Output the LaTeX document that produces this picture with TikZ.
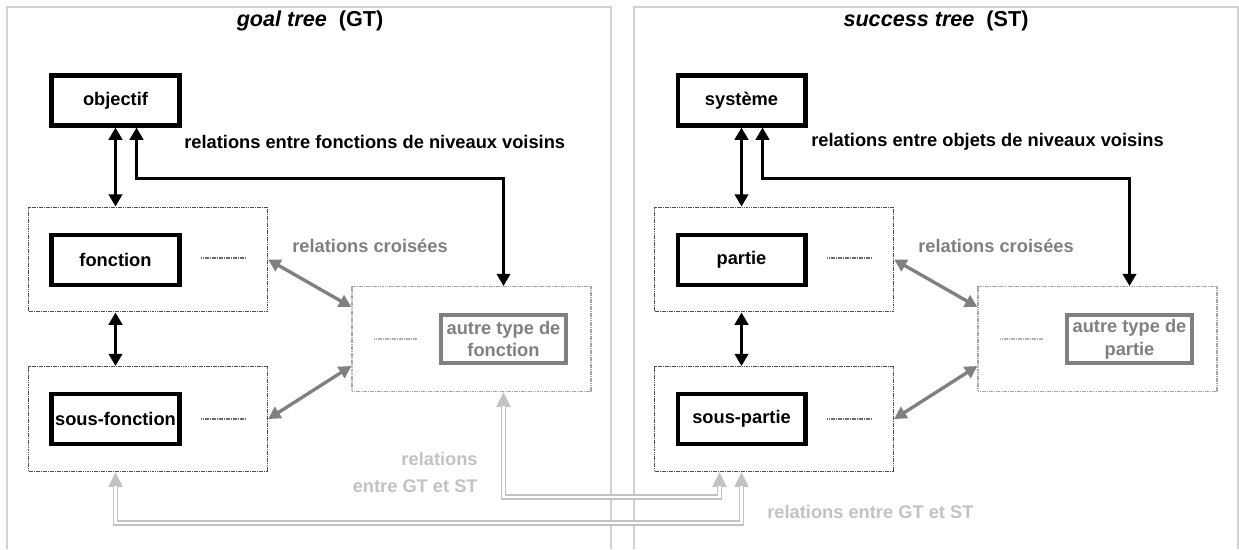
\documentclass[tikz,border=0pt]{standalone}
\usepackage{fontspec}
\setmainfont{Liberation Sans}
\usetikzlibrary{arrows.meta}
\definecolor{midgray}{gray}{0.5}
\definecolor{ltgray}{gray}{0.76}
\definecolor{framegray}{gray}{0.82}
\definecolor{dotgray}{gray}{0.3}
\newcommand{\boxfnt}{\fontsize{10.4}{13}\selectfont\bfseries}
\newcommand{\titlefnt}{\fontsize{12.3}{14}\selectfont\bfseries}

\begin{document}
\begin{tikzpicture}[x=0.02cm,y=-0.02cm,
    box/.style={draw,line width=2.3pt,minimum width=2.56cm,minimum height=1.0cm,inner sep=0pt,font=\boxfnt},
    otherbox/.style={box,draw=midgray,text=midgray,align=center,minimum width=2.51cm,minimum height=0.97cm},
    grp/.style={draw=dotgray,line width=0.8pt,dash pattern=on 0.7pt off 0.3pt,minimum width=4.78cm,minimum height=2.09cm,inner sep=0pt},
    othergrp/.style={grp,draw=gray!70},
    dots/.style={draw=gray!85!black,line width=0.7pt,dash pattern=on 0.7pt off 0.3pt},
    frame/.style={draw=framegray,line width=0.6pt},
    blk/.style={line width=2.1pt,{Triangle[length=7pt,width=7.6pt]}-{Triangle[length=7pt,width=7.6pt]}},
    grayarr/.style={draw=midgray,line width=1.9pt,{Triangle[length=7pt,width=7.4pt]}-{Triangle[length=7pt,width=7.4pt]}},
    ltarr/.style={draw=ltgray,line width=3pt,{Triangle[length=8.5pt,width=7.6pt]}-{Triangle[length=8.5pt,width=7.6pt]},
      postaction={draw=white,line width=1.3pt,arrows=-,shorten <=8pt,shorten >=8pt}},
    txt/.style={font=\boxfnt,inner sep=0pt}]
  \useasboundingbox (0,0) rectangle (1239,549);
  \foreach \x in {7,634}
    \draw[frame] (\x,549) -- (\x,7) -- ++(604,0) -- ++(0,542);

  % goal tree
  \node[font=\titlefnt] (gttitle) at (310,21) {\textit{goal tree}\ \ (GT)};
  \node[box] (objectif) at (115.5,100.5) {objectif};
  \node[grp] (fgrp) at (148,259.5) {};
  \node[box] (fonction) at (115.5,260) {fonction};
  \node[grp] (sfgrp) at (148,419) {};
  \node[box] (sousfonction) at (115.5,419) {sous-fonction};
  \node[othergrp] (agrp) at (471.5,339) {};
  \node[otherbox] (abox) at (503.5,339) {autre type de\\fonction};
  \draw[dots] (201,258) -- (245,258);
  \draw[dots] (201,419) -- (245,419);
  \draw[dots,draw=gray!60] (374,339) -- (417,339);
  \node[txt,anchor=west] (gtrel) at (184,142) {relations entre fonctions de niveaux voisins};
  \node[txt,anchor=west,text=midgray] (gtcross) at (292,246) {relations crois\'ees};
  \node[txt,anchor=east,text=ltgray,align=right,font=\fontsize{10.4}{15.3}\selectfont\bfseries] (gtst) at (478,472.5) {relations\\entre GT et ST};

  \draw[blk] (objectif.south) -- (objectif.south |- fgrp.north);
  \draw[blk] (objectif.south |- fgrp.south) -- (objectif.south |- sfgrp.north);
  \draw[blk] ([xshift=0.42cm]objectif.south) -- ++(0,51) -| (abox.north |- agrp.north);
  \draw[grayarr] (fgrp.east) -- ([yshift=0.64cm]agrp.west);
  \draw[grayarr] (sfgrp.east) -- ([yshift=-0.54cm]agrp.west);

  % success tree
  \node[font=\titlefnt] (sttitle) at (936,21) {\textit{success tree}\ \ (ST)};
  \node[box] (systeme) at (741.5,100.5) {syst\`eme};
  \node[grp] (pgrp) at (774,259.5) {};
  \node[box] (partie) at (741.5,260) {partie};
  \node[grp] (spgrp) at (774,419) {};
  \node[box] (souspartie) at (741.5,419) {sous-partie};
  \node[othergrp] (apgrp) at (1097.5,339) {};
  \node[otherbox] (apbox) at (1129.5,339) {autre type de\\partie};
  \draw[dots] (827,258) -- (871,258);
  \draw[dots] (827,419) -- (871,419);
  \draw[dots,draw=gray!60] (1000,339) -- (1043,339);
  \node[txt,anchor=west] (strel) at (811,142) {relations entre objets de niveaux voisins};
  \node[txt,anchor=west,text=midgray] (stcross) at (918,246) {relations crois\'ees};
  \node[txt,anchor=west,text=ltgray] (stgt) at (767,512) {relations entre GT et ST};

  \draw[blk] (systeme.south) -- (systeme.south |- pgrp.north);
  \draw[blk] (systeme.south |- pgrp.south) -- (systeme.south |- spgrp.north);
  \draw[blk] ([xshift=0.42cm]systeme.south) -- ++(0,51) -| (apbox.north |- apgrp.north);
  \draw[grayarr] (pgrp.east) -- ([yshift=0.64cm]apgrp.west);
  \draw[grayarr] (spgrp.east) -- ([yshift=-0.54cm]apgrp.west);

  % GT <-> ST
  \coordinate (spin) at ([xshift=-0.44cm]souspartie.south |- spgrp.south);
  \draw[ltarr] (abox.south |- agrp.south) -- ++(0,105) -| (spin);
  \draw[ltarr] (sousfonction.south |- sfgrp.south) -- ++(0,51) -| (souspartie.south |- spgrp.south);
\end{tikzpicture}
\end{document}
